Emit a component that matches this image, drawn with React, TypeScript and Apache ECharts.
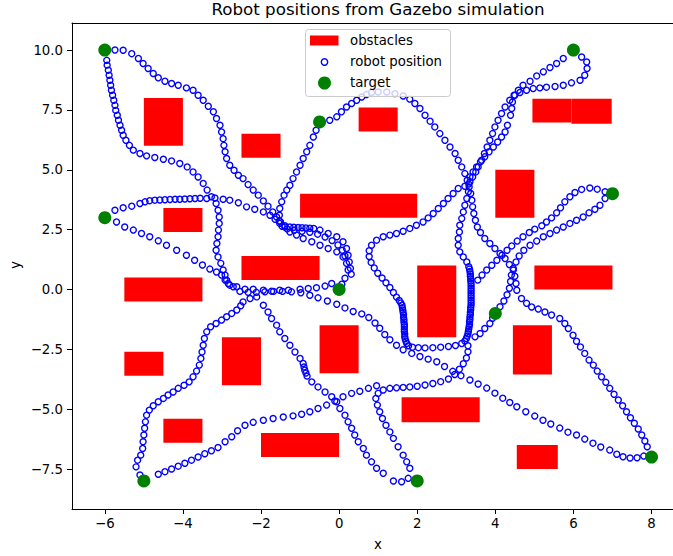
import React, { useEffect, useRef } from 'react';
import * as echarts from 'echarts';

const FONT = 'DejaVu Sans';
const xTicks = [-6, -4, -2, 0, 2, 4, 6, 8];
const yTicks = [-7.5, -5, -2.5, 0, 2.5, 5, 7.5, 10];

// obstacles: [x0, y0, x1, y1]
const obstacles = [
  [-5, 6, -4, 8], [-2.5, 5.5, -1.5, 6.5], [-4.5, 2.4, -3.5, 3.4], [-1, 3, 2, 4],
  [-2.5, 0.4, -0.5, 1.4], [-5.5, -0.5, -3.5, 0.5], [-5.5, -3.6, -4.5, -2.6], [-3, -4, -2, -2],
  [-4.5, -6.4, -3.5, -5.4], [-2, -7, 0, -6], [-0.5, -3.5, 0.5, -1.5], [0.5, 6.6, 1.5, 7.6],
  [4.95, 6.97, 5.95, 7.97], [5.95, 6.92, 6.98, 7.97], [4, 3, 5, 5], [5, 0, 7, 1], [2, -2, 3, 1],
  [4.45, -3.55, 5.45, -1.5], [1.6, -5.55, 3.6, -4.5], [4.55, -7.5, 5.6, -6.5],
];

const targetX = [-6, -0.5, 6, -6, 7, 0, 4, -5, 2, 8];
const targetY = [10, 7, 10, 3, 4, 0, -1, -8, -8, -7];

const pathT1Right = [[-5.74,10.0],[-5.53,9.99],[-5.31,9.85],[-5.14,9.65],[-5.02,9.44],[-4.89,9.23],[-4.76,9.02],[-4.63,8.84],[-4.46,8.70],[-4.29,8.60],[-4.12,8.53],[-3.91,8.42],[-3.74,8.32],[-3.61,8.11],[-3.48,7.90],[-3.35,7.65],[-3.22,7.42],[-3.14,7.14],[-3.05,6.86],[-3.01,6.58],[-2.97,6.30],[-2.95,6.02],[-2.92,5.75],[-2.88,5.47],[-2.80,5.19],[-2.69,4.98],[-2.58,4.77],[-2.46,4.63],[-2.33,4.38],[-2.20,4.15],[-2.07,3.94],[-1.94,3.70],[-1.82,3.48],[-1.70,3.24],[-1.60,3.03],[-1.50,2.82],[-1.39,2.61],[-1.26,2.40],[-1.09,2.27],[-0.92,2.13],[-0.70,1.99],[-0.49,1.85],[-0.28,1.71],[-0.06,1.57],[0.10,1.36],[0.19,1.09],[0.23,0.81],[0.15,0.47],[0.07,0.22]];
const pathT1Left = [[-5.95,9.57],[-5.94,9.37],[-5.91,9.16],[-5.89,8.95],[-5.87,8.74],[-5.85,8.53],[-5.83,8.32],[-5.80,8.11],[-5.77,7.90],[-5.74,7.69],[-5.72,7.48],[-5.68,7.28],[-5.65,7.07],[-5.61,6.86],[-5.57,6.65],[-5.53,6.44],[-5.46,6.23],[-5.37,6.02],[-5.27,5.82],[-5.10,5.68],[-4.93,5.58],[-4.72,5.51],[-4.50,5.44],[-4.29,5.37],[-4.08,5.26],[-3.89,5.12],[-3.74,4.91],[-3.61,4.70],[-3.48,4.43],[-3.38,4.15],[-3.27,3.87],[-3.15,3.59],[-3.10,3.31],[-3.07,3.03],[-3.07,2.76],[-3.09,2.48],[-3.10,2.20],[-3.13,1.92],[-3.15,1.64],[-3.10,1.36],[-3.03,1.09],[-2.97,0.81],[-2.92,0.60],[-2.88,0.39],[-2.80,0.18],[-2.62,0.11],[-2.41,0.01],[-2.20,0.01],[-1.94,-0.03],[-1.73,-0.07],[-1.52,-0.03],[-1.30,-0.03],[-1.00,0.01],[-0.79,0.04],[-0.58,0.07],[-0.36,0.14],[-0.19,0.25]];
const pathT4Upper = [[-5.74,3.31],[-5.53,3.41],[-5.31,3.48],[-5.10,3.59],[-4.97,3.66],[-4.85,3.71],[-4.72,3.73],[-4.59,3.74],[-4.46,3.75],[-4.33,3.76],[-4.20,3.77],[-4.08,3.77],[-3.95,3.78],[-3.82,3.79],[-3.69,3.80],[-3.56,3.81],[-3.39,3.80],[-3.18,3.82],[-2.97,3.77],[-2.80,3.73],[-2.58,3.62],[-2.37,3.45],[-2.16,3.35],[-1.94,3.24],[-1.77,3.10],[-1.64,2.93],[-1.52,2.76],[-1.39,2.66],[-1.26,2.61],[-1.16,2.60],[-1.05,2.59],[-0.95,2.58],[-0.85,2.57],[-0.75,2.56],[-0.65,2.55],[-0.49,2.48],[-0.28,2.34],[-0.06,2.20],[0.10,1.99],[0.19,1.71],[0.23,1.43],[0.26,1.15],[0.29,0.88],[0.31,0.64]];
const pathT4Lower = [[-5.70,2.82],[-5.49,2.61],[-5.27,2.48],[-5.06,2.34],[-4.85,2.20],[-4.63,2.03],[-4.42,1.85],[-4.16,1.64],[-3.91,1.43],[-3.70,1.22],[-3.50,1.02],[-3.31,0.85],[-3.14,0.73],[-3.01,0.60],[-2.92,0.39],[-2.84,0.25],[-2.71,0.11],[-2.54,-0.08],[-2.33,-0.12],[-2.12,-0.12],[-1.90,-0.10],[-1.68,-0.08],[-1.45,-0.08],[-1.22,-0.10],[-0.98,-0.14],[-0.75,-0.24],[-0.54,-0.35],[-0.30,-0.48],[-0.06,-0.62],[0.15,-0.77],[0.36,-0.92],[0.58,-1.02],[0.76,-1.17],[0.92,-1.40],[1.04,-1.62],[1.17,-1.88],[1.30,-2.10],[1.47,-2.33],[1.64,-2.52],[1.86,-2.67],[2.07,-2.80],[2.28,-2.91],[2.50,-3.02],[2.70,-3.22],[2.91,-3.42],[3.12,-3.60],[3.35,-3.78],[3.56,-3.95],[3.78,-4.12],[3.99,-4.33],[4.19,-4.54],[4.37,-4.72],[4.55,-4.90],[4.78,-5.11],[5.01,-5.29],[5.22,-5.46],[5.42,-5.62],[5.65,-5.79],[5.86,-5.96],[6.08,-6.08],[6.29,-6.25],[6.50,-6.42],[6.70,-6.58],[6.93,-6.71],[7.11,-6.88],[7.27,-6.99],[7.45,-7.04],[7.63,-7.03],[7.80,-6.96]];
const pathT8Upper = [[-5.10,-7.75],[-5.20,-7.41],[-5.16,-7.13],[-5.08,-6.92],[-5.03,-6.64],[-5.02,-6.36],[-5.00,-6.08],[-4.98,-5.80],[-4.96,-5.53],[-4.93,-5.25],[-4.86,-5.04],[-4.76,-4.86],[-4.63,-4.69],[-4.50,-4.55],[-4.38,-4.41],[-4.25,-4.28],[-4.12,-4.13],[-3.97,-4.00],[-3.84,-3.86],[-3.74,-3.65],[-3.65,-3.41],[-3.58,-3.16],[-3.54,-2.88],[-3.51,-2.61],[-3.48,-2.33],[-3.45,-2.05],[-3.39,-1.77],[-3.29,-1.56],[-3.15,-1.42],[-3.01,-1.28],[-2.88,-1.14],[-2.75,-1.00],[-2.62,-0.86],[-2.52,-0.68],[-2.46,-0.52],[-2.28,-0.38],[-2.11,-0.31]];
const pathDiagonal = [[-1.94,-0.66],[-1.82,-0.94],[-1.73,-1.21],[-1.60,-1.49],[-1.52,-1.77],[-1.39,-2.05],[-1.26,-2.33],[-1.13,-2.61],[-1.00,-2.88],[-0.92,-3.09],[-0.90,-3.24],[-0.88,-3.37],[-0.85,-3.49],[-0.82,-3.62],[-0.70,-3.86],[-0.54,-4.07],[-0.36,-4.28],[-0.19,-4.48],[-0.06,-4.69],[0.02,-4.97],[0.15,-5.25],[0.23,-5.53],[0.32,-5.80],[0.40,-6.08],[0.49,-6.36],[0.62,-6.64],[0.70,-6.92],[0.83,-7.20],[0.96,-7.47],[1.13,-7.68],[1.39,-8.0],[1.60,-8.03],[1.77,-7.89]];
const pathT8Lower = [[-4.63,-7.72],[-4.46,-7.61],[-4.29,-7.50],[-4.12,-7.38],[-3.95,-7.26],[-3.78,-7.13],[-3.61,-7.00],[-3.44,-6.86],[-3.27,-6.74],[-3.10,-6.60],[-2.92,-6.36],[-2.75,-6.15],[-2.60,-5.90],[-2.41,-5.67],[-2.20,-5.55],[-1.94,-5.46],[-1.69,-5.39],[-1.43,-5.33],[-1.18,-5.28],[-0.96,-5.21],[-0.75,-5.11],[-0.54,-4.97],[-0.32,-4.83],[-0.11,-4.66],[0.10,-4.48],[0.32,-4.34],[0.53,-4.25],[0.75,-4.13],[0.96,-4.02]];
const pathT9Right = [[1.81,-7.47],[1.73,-7.20],[1.64,-6.92],[1.51,-6.57],[1.39,-6.22],[1.30,-5.95],[1.20,-5.67],[1.11,-5.39],[1.04,-5.11],[0.98,-4.83],[0.94,-4.55],[1.00,-4.34],[1.13,-4.20],[1.30,-4.13],[1.47,-4.11],[1.64,-4.09],[1.81,-4.07],[2.00,-4.04],[2.20,-3.99],[2.40,-3.93],[2.60,-3.85],[2.80,-3.74],[2.96,-3.55],[3.08,-3.33],[3.18,-3.10],[3.26,-2.86],[3.30,-2.60],[3.30,-2.35]];
const pathT2Upper = [[-0.24,7.07],[-0.06,7.21],[0.06,7.42],[0.19,7.62],[0.32,7.77],[0.45,7.90],[0.58,8.04],[0.70,8.14],[0.83,8.23],[1.00,8.25],[1.22,8.25],[1.43,8.18],[1.64,8.08],[1.81,7.95],[1.94,7.77],[2.07,7.56],[2.20,7.28],[2.33,7.03],[2.45,6.79],[2.58,6.51],[2.71,6.23],[2.84,5.95],[2.97,5.68],[3.05,5.40],[3.14,5.12],[3.22,4.84],[3.28,4.56],[3.33,4.28],[3.37,4.01],[3.40,3.73],[3.42,3.45],[3.45,3.17],[3.49,2.89],[3.54,2.61],[3.62,2.38],[3.73,2.13],[3.86,1.92],[3.99,1.71],[4.12,1.50],[4.25,1.29],[4.36,1.04],[4.46,0.81],[4.50,0.55],[4.53,0.25],[4.55,-0.03],[4.67,-0.38],[4.80,-0.58],[4.93,-0.73],[5.10,-0.82],[5.27,-0.94],[5.44,-1.07],[5.65,-1.21],[5.78,-1.42],[5.87,-1.63],[5.99,-1.91],[6.08,-2.16],[6.18,-2.40],[6.29,-2.67],[6.40,-2.95],[6.51,-3.16],[6.61,-3.41],[6.72,-3.65],[6.83,-3.88],[6.93,-4.13],[7.04,-4.38],[7.15,-4.62],[7.26,-4.86],[7.36,-5.11],[7.46,-5.36],[7.56,-5.59],[7.66,-5.83],[7.75,-6.08],[7.83,-6.33],[7.89,-6.57]];
const pathT2Lower = [[-0.59,6.65],[-0.66,6.37],[-0.75,6.02],[-0.83,5.75],[-0.92,5.47],[-1.00,5.19],[-1.09,4.91],[-1.18,4.63],[-1.26,4.35],[-1.34,4.15],[-1.41,3.94],[-1.47,3.66],[-1.52,3.38],[-1.53,3.10],[-1.53,2.86],[-1.46,2.64],[-1.33,2.53],[-1.15,2.47],[-0.95,2.43],[-0.75,2.39],[-0.55,2.31],[-0.36,2.19],[-0.18,2.04],[-0.03,1.86],[0.08,1.64],[0.15,1.40]];
const pathT3A = [[6.21,9.71],[6.34,9.50],[6.35,9.23],[6.29,8.95],[6.17,8.74],[5.95,8.63],[5.74,8.53],[5.53,8.48],[5.31,8.45],[5.14,8.42],[4.97,8.39],[4.80,8.32],[4.63,8.23],[4.50,8.11],[4.37,7.90],[4.25,7.62],[4.16,7.35],[4.07,7.07],[3.99,6.79],[3.93,6.51],[3.86,6.23],[3.79,5.95],[3.72,5.68],[3.65,5.40],[3.56,5.12],[3.50,4.91],[3.42,4.70],[3.35,4.49],[3.22,4.31],[3.05,4.22],[2.92,4.01],[2.79,3.80],[2.67,3.59],[2.54,3.38],[2.41,3.17],[2.28,2.99],[2.15,2.82],[1.98,2.68],[1.81,2.55],[1.64,2.43],[1.47,2.34],[1.30,2.27],[1.13,2.20],[0.96,2.06],[0.83,1.85],[0.77,1.62],[0.77,1.38],[0.82,1.13],[0.90,0.90],[0.99,0.68],[1.10,0.48],[1.20,0.28],[1.30,0.08],[1.39,-0.13],[1.47,-0.32],[1.54,-0.46],[1.58,-0.56],[1.61,-0.66],[1.62,-0.76],[1.63,-0.86],[1.64,-0.96],[1.65,-1.06],[1.65,-1.16],[1.66,-1.26],[1.66,-1.36],[1.67,-1.46],[1.67,-1.56],[1.67,-1.66],[1.67,-1.76],[1.68,-1.86],[1.68,-1.96],[1.69,-2.06],[1.71,-2.16],[1.73,-2.26],[1.78,-2.35],[1.88,-2.41],[2.03,-2.43],[2.20,-2.44],[2.40,-2.43],[2.60,-2.41],[2.80,-2.38],[2.98,-2.34],[3.14,-2.26]];
const pathT3B = [[5.74,9.65],[5.57,9.44],[5.40,9.27],[5.23,9.09],[5.06,8.92],[4.89,8.70],[4.71,8.53],[4.59,8.32],[4.48,8.11],[4.44,7.83],[4.42,7.56],[4.39,7.28],[4.31,6.86],[4.25,6.58],[4.16,6.37],[4.06,6.16],[3.95,5.95],[3.84,5.75],[3.73,5.54],[3.62,5.33],[3.52,5.12],[3.43,4.91],[3.35,4.70],[3.32,4.40],[3.31,4.08],[3.27,3.80],[3.22,3.52],[3.18,3.24],[3.14,2.96],[3.09,2.68],[3.08,2.40],[3.05,2.13],[3.05,1.85],[3.09,1.57],[3.18,1.36],[3.27,1.15],[3.32,0.95],[3.34,0.85],[3.35,0.75],[3.36,0.65],[3.36,0.55],[3.37,0.45],[3.37,0.35],[3.38,0.25],[3.38,0.15],[3.38,0.05],[3.38,-0.05],[3.38,-0.15],[3.38,-0.25],[3.38,-0.35],[3.38,-0.45],[3.38,-0.55],[3.38,-0.65],[3.37,-0.75],[3.37,-0.85],[3.36,-0.95],[3.36,-1.05],[3.35,-1.15],[3.35,-1.25],[3.34,-1.35],[3.34,-1.45],[3.33,-1.55],[3.32,-1.65],[3.31,-1.75],[3.30,-1.85],[3.28,-1.95],[3.26,-2.05],[3.22,-2.15]];
const pathT5Upper = [[6.81,4.08],[6.61,4.19],[6.42,4.24],[6.21,4.18],[6.04,4.05],[5.91,3.87],[5.78,3.66],[5.67,3.41],[5.57,3.20],[5.44,2.99],[5.31,2.82],[5.19,2.66],[5.01,2.52],[4.87,2.38],[4.71,2.20],[4.56,2.02],[4.42,1.82],[4.30,1.64],[4.17,1.43],[4.04,1.22],[3.91,1.01],[3.78,0.81],[3.66,0.60],[3.55,0.39]];
const pathT5Lower = [[6.81,3.80],[6.68,3.52],[6.55,3.35],[6.40,3.20],[6.25,3.03],[6.08,2.89],[5.91,2.76],[5.74,2.61],[5.57,2.48],[5.40,2.34],[5.23,2.20],[5.06,2.02],[4.89,1.85],[4.73,1.64],[4.61,1.40],[4.53,1.15],[4.46,0.88],[4.41,0.60],[4.39,0.33],[4.36,0.05],[4.30,-0.22],[4.22,-0.48],[4.12,-0.72]];
const pathT7Link = [[3.93,-1.20],[3.86,-1.42],[3.73,-1.63],[3.61,-1.84],[3.48,-1.98]];

const robotPath = [
  ...pathT1Right, ...pathT1Left, ...pathT4Upper, ...pathT4Lower, ...pathT8Upper, ...pathDiagonal,
  ...pathT8Lower, ...pathT9Right, ...pathT2Upper, ...pathT2Lower, ...pathT3A, ...pathT3B,
  ...pathT5Upper, ...pathT5Lower, ...pathT7Link,
];

const fmt = (v: number, d: number) => (v < 0 ? '\u2212' : '') + Math.abs(v).toFixed(d);

export default function App() {
  const ref = useRef<HTMLDivElement>(null);
  useEffect(() => {
    const chart = echarts.init(ref.current!, null, { renderer: 'svg' });
    const axisCommon = {
      axisLine: { onZero: false, lineStyle: { color: '#000', width: 1 } },
      splitLine: { show: false },
    };
    chart.setOption({
      animation: false,
      backgroundColor: '#fff',
      title: {
        text: 'Robot positions from Gazebo simulation',
        left: 378, top: 0, textAlign: 'center', padding: 0,
        textStyle: { fontFamily: FONT, fontSize: 16.7, fontWeight: 'normal', color: '#000' },
      },
      grid: { left: 72, top: 23, right: 0, bottom: 47 },
      xAxis: [
        {
          type: 'value', min: -6.84, max: 8.55, position: 'bottom', ...axisCommon,
          axisTick: { show: true, customValues: xTicks, length: 5, lineStyle: { color: '#000' } },
          axisLabel: { customValues: xTicks, formatter: (v: number) => fmt(v, 0), fontFamily: FONT, fontSize: 13.3, color: '#000', margin: 8 },
        },
        {
          type: 'value', min: -6.84, max: 8.55, position: 'top', ...axisCommon,
          axisTick: { show: false }, axisLabel: { show: false },
        },
      ],
      yAxis: {
        type: 'value', min: -9.17, max: 11.13, ...axisCommon,
        axisTick: { show: true, customValues: yTicks, length: 5, lineStyle: { color: '#000' } },
        axisLabel: { customValues: yTicks, formatter: (v: number) => fmt(v, 1), fontFamily: FONT, fontSize: 13.3, color: '#000', margin: 9 },
      },
      series: [
        {
          name: 'obstacles', type: 'custom', data: obstacles, z: 1,
          renderItem: (params: any, api: any) => {
            const p0 = api.coord([api.value(0), api.value(3)]);
            const p1 = api.coord([api.value(2), api.value(1)]);
            return { type: 'rect', shape: { x: p0[0], y: p0[1], width: p1[0] - p0[0], height: p1[1] - p0[1] }, style: { fill: '#ff0000' } };
          },
        },
        {
          name: 'robot position', type: 'scatter', data: robotPath, z: 2, symbol: 'circle', symbolSize: 6,
          itemStyle: { color: 'rgba(0,0,0,0)', borderColor: '#0000ff', borderWidth: 1.4, opacity: 1 },
        },
        {
          name: 'target', type: 'scatter', data: targetX.map((x, i) => [x, targetY[i]]), z: 3, symbolSize: 13,
          itemStyle: { color: '#008000', opacity: 1 },
        },
      ],
      graphic: [
        { type: 'rect', z: 100, shape: { x: 305.5, y: 29.5, width: 145, height: 67, r: 3 }, style: { fill: 'rgba(255,255,255,0.8)', stroke: '#cccccc', lineWidth: 1 } },
        { type: 'rect', z: 101, shape: { x: 310, y: 35.5, width: 28.5, height: 10 }, style: { fill: '#ff0000' } },
        { type: 'circle', z: 101, shape: { cx: 324.5, cy: 62, r: 3.2 }, style: { fill: 'none', stroke: '#0000ff', lineWidth: 1.4 } },
        { type: 'circle', z: 101, shape: { cx: 324.5, cy: 83, r: 6.5 }, style: { fill: '#008000' } },
        { type: 'text', z: 101, x: 350, y: 40.5, style: { text: 'obstacles', fontFamily: FONT, fontSize: 13.3, fill: '#000', verticalAlign: 'middle' } },
        { type: 'text', z: 101, x: 350, y: 61.5, style: { text: 'robot position', fontFamily: FONT, fontSize: 13.3, fill: '#000', verticalAlign: 'middle' } },
        { type: 'text', z: 101, x: 350, y: 82, style: { text: 'target', fontFamily: FONT, fontSize: 13.3, fill: '#000', verticalAlign: 'middle' } },
        { type: 'text', x: 378, y: 544, style: { text: 'x', fontFamily: FONT, fontSize: 13.3, fill: '#000', align: 'center', verticalAlign: 'middle' } },
        { type: 'text', x: 15, y: 265, rotation: Math.PI / 2, style: { text: 'y', fontFamily: FONT, fontSize: 13.3, fill: '#000', align: 'center', verticalAlign: 'middle' } },
      ],
    });
    return () => chart.dispose();
  }, []);
  return <div ref={ref} style={{ position: 'absolute', left: 0, top: 0, width: 673, height: 556, background: '#fff' }} />;
}
